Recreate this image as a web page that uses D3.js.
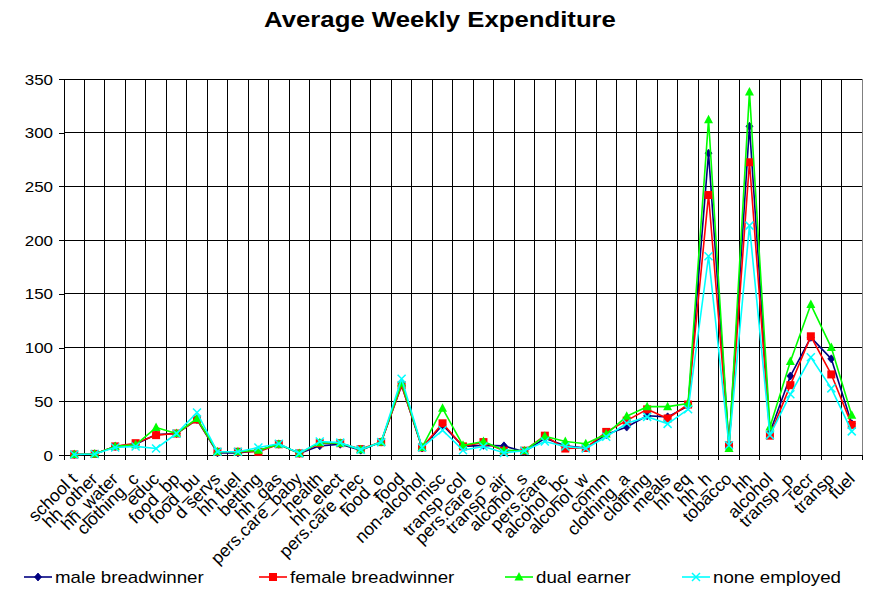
<!DOCTYPE html>
<html>
<head>
<meta charset="utf-8">
<script src="https://cdn.jsdelivr.net/npm/d3@7"></script>
<style>
  body { margin: 0; background: #fff; }
  svg { display: block; font-family: "Liberation Sans", Arial, sans-serif; }
</style>
</head>
<body>
<div id="chart"></div>
<script>
const categories = ["school t", "hh_other", "hh_water", "clothing_c", "educ", "food_bp", "food_bu", "d servs",
  "hh fuel", "betting", "hh_gas", "pers.care_baby", "health", "hh_elect", "pers.care_nec", "food_o", "food",
  "non-alcohol", "misc", "transp_col", "pers.care_o", "transp_air", "alcohol_s", "pers.care", "alcohol_bc",
  "alcohol_w", "comm", "clothing_a", "clothing", "meals", "hh eq", "hh_h", "tobacco", "hh", "alcohol",
  "transp_p", "recr", "transp", "fuel"];

const maleBreadwinner = [0.5, 1, 8, 10, 19, 20, 33, 2, 2, 4, 10, 1.5, 8.5, 10, 4.5, 12, 65, 6.5, 28, 8, 9,
  8.5, 3, 15.5, 8.5, 6.5, 19, 26, 36.5, 35.5, 45.5, 281, 9, 306, 21, 73.5, 109.5, 89.5, 29];
const femaleBreadwinner = [0.5, 1, 8, 11, 18.5, 20, 33, 3, 3, 3, 10, 1.5, 11, 11, 5.5, 12, 65, 7, 29.5, 8, 12,
  4, 4, 18, 6, 6.5, 21.5, 32, 42.5, 34, 47, 242, 9, 272.5, 18, 65, 110.5, 75, 28];
const dualEarner = [0.5, 1, 8, 9.5, 25.5, 20, 34, 3, 3, 4.5, 10, 1.5, 11.5, 11, 5, 12, 67, 7, 43.5, 9, 12.5,
  4.5, 4, 17.5, 12.5, 10.5, 19.5, 36, 45, 45, 48, 312, 6, 338, 26, 87, 140, 100, 37];
const noneEmployed = [0.5, 1, 7, 8, 6, 20, 39.5, 3, 3, 7, 10.5, 1.5, 12.5, 11.5, 5, 12, 71, 7, 23, 4.5, 8,
  2, 4, 12.5, 8, 6, 17, 29.5, 35.5, 29, 42.5, 185, 9, 213.5, 18.5, 56.5, 91, 62, 22];

const yTicks = [0, 50, 100, 150, 200, 250, 300, 350];

const series = [
  { name: "male breadwinner", values: maleBreadwinner, color: "#000080", marker: "diamond" },
  { name: "female breadwinner", values: femaleBreadwinner, color: "#ff0000", marker: "square" },
  { name: "dual earner", values: dualEarner, color: "#00ff00", marker: "triangle" },
  { name: "none employed", values: noneEmployed, color: "#00ffff", marker: "x" },
];

const W = 878, H = 589;
const SX = 1.17; // horizontal stretch of the text in the original picture
const plot = { left: 64, right: 862, top: 79, bottom: 455 };

const svg = d3.select("#chart").append("svg").attr("width", W).attr("height", H);

const x = d3.scaleBand().domain(categories).range([plot.left, plot.right]).padding(0);
const y = d3.scaleLinear().domain([0, 350]).range([plot.bottom, plot.top]);

function stretchedText(g, tx, ty, str, size, weight, anchor) {
  return g.append("text")
    .attr("transform", `translate(${tx},${ty}) scale(${SX},1)`)
    .attr("text-anchor", anchor || "start")
    .attr("font-size", size)
    .attr("font-weight", weight || "normal")
    .attr("fill", "#000")
    .text(str);
}

// title
stretchedText(svg, 440, 27, "Average Weekly Expenditure", 22, "bold", "middle");

// plot frame + grid
const grid = svg.append("g").attr("shape-rendering", "crispEdges");
grid.append("rect")
  .attr("x", plot.left).attr("y", plot.top)
  .attr("width", plot.right - plot.left).attr("height", plot.bottom - plot.top)
  .attr("fill", "none").attr("stroke", "#808080");
grid.selectAll("line.h").data(yTicks.slice(1)).join("line")
  .attr("x1", plot.left).attr("x2", plot.right)
  .attr("y1", (d) => y(d)).attr("y2", (d) => y(d))
  .attr("stroke", "#000");
grid.selectAll("line.v").data(categories.slice(1)).join("line")
  .attr("x1", (d) => x(d)).attr("x2", (d) => x(d))
  .attr("y1", plot.top).attr("y2", plot.bottom)
  .attr("stroke", "#000");

// y axis
const yAxis = svg.append("g").attr("transform", `translate(${plot.left},0)`)
  .call(d3.axisLeft(y).tickValues(yTicks).tickSize(5).tickPadding(0).tickFormat(d3.format("d")));
yAxis.select(".domain").attr("stroke", "#000").attr("shape-rendering", "crispEdges");
yAxis.selectAll(".tick line").attr("stroke", "#000").attr("shape-rendering", "crispEdges");
yAxis.selectAll(".tick text").remove();
yAxis.selectAll(".tick").each(function (d) {
  stretchedText(d3.select(this), -11, 5, String(d), 14.5, "normal", "end");
});

// x axis: ticks at category boundaries
const xAxis = svg.append("g").attr("shape-rendering", "crispEdges");
xAxis.append("line")
  .attr("x1", plot.left).attr("x2", plot.right)
  .attr("y1", plot.bottom).attr("y2", plot.bottom).attr("stroke", "#000");
xAxis.selectAll("line.t").data(categories.concat([null])).join("line")
  .attr("x1", (d) => d === null ? plot.right : x(d))
  .attr("x2", (d) => d === null ? plot.right : x(d))
  .attr("y1", plot.bottom).attr("y2", plot.bottom + 5).attr("stroke", "#000");

svg.append("g").selectAll("text").data(categories).join("text")
  .attr("transform", (d) => `translate(${x(d) + x.bandwidth() / 2 + 4},${plot.bottom + 25}) rotate(-45)`)
  .attr("text-anchor", "end")
  .attr("font-size", 17.5)
  .attr("fill", "#000")
  .text((d) => d);

// markers
function drawMarker(g, kind, color) {
  if (kind === "diamond") {
    g.append("path").attr("d", "M0,-4 L3.5,0 L0,4 L-3.5,0 Z").attr("fill", color).attr("stroke", color).attr("stroke-width", 0.8);
  } else if (kind === "square") {
    g.append("rect").attr("x", -4).attr("y", -4).attr("width", 8).attr("height", 8).attr("fill", color);
  } else if (kind === "triangle") {
    g.append("path").attr("d", "M0,-5 L4.5,3.5 L-4.5,3.5 Z").attr("fill", color);
  } else {
    g.append("path").attr("d", "M-4,-4 L4,4 M-4,4 L4,-4").attr("fill", "none").attr("stroke", color).attr("stroke-width", 1.5);
  }
}

const line = d3.line()
  .x((d, i) => x(categories[i]) + x.bandwidth() / 2)
  .y((d) => y(d));

const gSeries = svg.append("g");
series.forEach((s) => {
  const g = gSeries.append("g");
  g.append("path").attr("d", line(s.values))
    .attr("fill", "none").attr("stroke", s.color).attr("stroke-width", 1.6)
    .attr("stroke-linejoin", "round");
  s.values.forEach((v, i) => {
    const m = g.append("g")
      .attr("transform", `translate(${x(categories[i]) + x.bandwidth() / 2},${y(v)})`);
    drawMarker(m, s.marker, s.color);
  });
});

// legend
const legendX = [55, 290, 536, 713];
const legendY = 577;
const gLegend = svg.append("g");
series.forEach((s, i) => {
  const tx = legendX[i];
  const g = gLegend.append("g");
  g.append("line").attr("x1", tx - 31).attr("x2", tx - 3)
    .attr("y1", legendY).attr("y2", legendY)
    .attr("stroke", s.color).attr("stroke-width", 1.6);
  const m = g.append("g").attr("transform", `translate(${tx - 17},${legendY})`);
  drawMarker(m, s.marker, s.color);
  stretchedText(g, tx, legendY + 6, s.name, 16, "normal", "start");
});
</script>
</body>
</html>
